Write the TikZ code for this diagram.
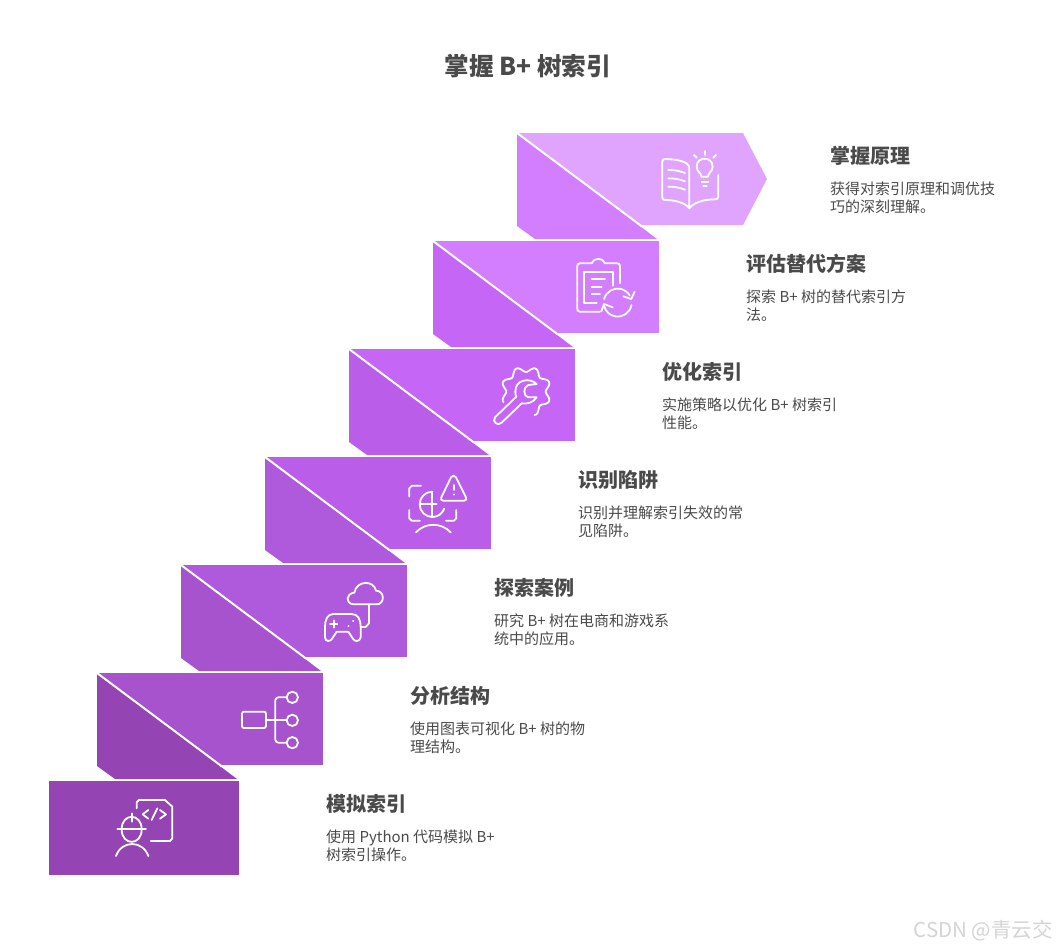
\documentclass[tikz,border=0pt]{standalone}
\usepackage{fontspec}
\setmainfont{Noto Sans CJK SC}
\definecolor{stepA}{HTML}{9445B3}
\definecolor{stepB}{HTML}{A653CD}
\definecolor{stepC}{HTML}{AF59DC}
\definecolor{stepD}{HTML}{BA5EEA}
\definecolor{stepE}{HTML}{C566F7}
\definecolor{stepF}{HTML}{D37EFF}
\definecolor{stepG}{HTML}{E0A4FF}
\definecolor{inkgray}{HTML}{4A4A4A}
\tikzset{
  headtext/.style={anchor=west,font=\bfseries\fontsize{20}{24}\selectfont,text=inkgray,inner sep=0pt},
  bodytext/.style={anchor=north west,align=left,font=\fontsize{15}{18}\selectfont,text=inkgray,inner sep=0pt},
  icon/.style={draw=white,line width=1.8pt,line cap=round,line join=round},
}
\begin{document}
\begin{tikzpicture}[x=1pt,y=-1pt]
  \useasboundingbox (0,0) rectangle (1056,948);

  % Titolo
  \node[font=\bfseries\fontsize{24.6}{28}\selectfont,text=inkgray,inner sep=0pt] (title) at (528,66) {掌握 B+ 树索引};

  % Gradini
  \fill[stepA] (49,781) rectangle (239,875);
  \foreach \k/\panel/\fold in {0/stepG/stepF,1/stepF/stepE,2/stepE/stepD,3/stepD/stepC,4/stepC/stepB,5/stepB/stepA}{
    \begin{scope}[shift={(-84*\k,108*\k)}]
      \ifnum\k=0
        \fill[\panel] (517,133) -- (743,133) -- (767,179) -- (743,225) -- (517,225) -- cycle;
      \else
        \fill[\panel] (517,133) rectangle (743,225);
      \fi
      \fill[\fold] (517,133) -- (517,226) -- (535,239) -- (657,239) -- cycle;
      \draw[white,line width=2pt] (517,133) -- (642,226.5);
    \end{scope}
  }

  % Testi
  \node[headtext] (headG) at (830,156) {掌握原理};
  \node[bodytext] (bodyG) at (830,182) {获得对索引原理和调优技\\巧的深刻理解。};
  \node[headtext] (headF) at (746,264) {评估替代方案};
  \node[bodytext] (bodyF) at (746,290) {探索 B+ 树的替代索引方\\法。};
  \node[headtext] (headE) at (662,372) {优化索引};
  \node[bodytext] (bodyE) at (662,398) {实施策略以优化 B+ 树索引\\性能。};
  \node[headtext] (headD) at (578,480) {识别陷阱};
  \node[bodytext] (bodyD) at (578,506) {识别并理解索引失效的常\\见陷阱。};
  \node[headtext] (headC) at (494,588) {探索案例};
  \node[bodytext] (bodyC) at (494,614) {研究 B+ 树在电商和游戏系\\统中的应用。};
  \node[headtext] (headB) at (410,696) {分析结构};
  \node[bodytext] (bodyB) at (410,722) {使用图表可视化 B+ 树的物\\理结构。};
  \node[headtext] (headA) at (326,804) {模拟索引};
  \node[bodytext] (bodyA) at (326,830) {使用 Python 代码模拟 B+\\树索引操作。};
  \node[anchor=east,font=\fontsize{20.5}{22}\selectfont,text=black!17,inner sep=0pt] (mark) at (1053,931) {CSDN @青云交};

  % Libro e lampadina
  \begin{scope}[shift={(500,120)},scale=1/3]
    \draw[icon] (655,165) -- (655,230) .. controls (655,237) and (650,238) .. (645,238) .. controls (610,238) and (580,248) .. (568,265) .. controls (556,248) and (525,240) .. (495,240) .. controls (490,240) and (487,237) .. (487,232) -- (487,125) .. controls (487,119) and (490,117) .. (495,117) .. controls (525,118) and (568,122) .. (568,145) -- (568,265);
    \foreach \ly in {150,175,200}
      \draw[icon] (505,\ly) .. controls (525,\ly) and (540,\ly+3) .. (555,\ly+9);
    \draw[icon] (604,170) .. controls (604,158) and (590,155) .. (590,140) .. controls (590,108) and (638,108) .. (638,140) .. controls (638,155) and (624,158) .. (624,170) -- cycle;
    \draw[icon] (605,185) -- (625,185);
    \draw[icon] (610,198) -- (620,198);
    \draw[icon] (614,93) -- (614,105);
    \draw[icon] (582,105) -- (590,113);
    \draw[icon] (648,105) -- (640,113);

    % Appunti con frecce
    \draw[icon] (300,575) -- (240,575) .. controls (235,575) and (232,572) .. (232,567) -- (232,438) .. controls (232,433) and (235,430) .. (240,430) -- (275,430) .. controls (280,412) and (310,412) .. (315,430) -- (352,430) .. controls (357,430) and (360,433) .. (360,438) -- (360,490);
    \draw[icon] (290,550) -- (253,550) -- (253,455) -- (338,455) -- (338,497);
    \draw[icon] (275,478) -- (315,478);
    \draw[icon] (275,500) -- (305,500);
    \draw[icon] (275,522) -- (300,522);
    \draw[icon] (312.4,537) arc (-165:-30:42);
    \draw[icon] (394.4,555) arc (10:165:42);
    \draw[icon] (404,515) -- (394,537) -- (370,529);
    \draw[icon] (304,574) -- (312,552) -- (338,562);
  \end{scope}

  % Ingranaggio e chiave
  \begin{scope}[shift={(340,340)},scale=1/3]
    \draw[icon] plot[smooth,domain=-70:205,samples=90] ({558+(67-8*cos(8*\x))*cos(\x)},{155-(67-8*cos(8*\x))*sin(\x)});
    \draw[icon] (590,132) .. controls (570,112) and (525,118) .. (526,155) .. controls (526,162) and (527,167) .. (529,170) -- (465,232) .. controls (455,245) and (473,260) .. (485,248) -- (545,190) .. controls (560,193) and (580,188) .. (590,172) -- (565,172) .. controls (550,170) and (548,140) .. (565,135) -- cycle;

    % Allarme e sfera
    \draw[icon] (333,412) .. controls (337,405) and (344,405) .. (348,412) -- (378,472) .. controls (381,478) and (378,482) .. (372,482) -- (310,482) .. controls (304,482) and (301,478) .. (304,472) -- cycle;
    \draw[icon] (341,435) -- (341,450);
    \draw[icon] (341,463) -- (341,464);
    \draw[icon] (243,437) -- (216,437) -- (208,445) -- (208,470);
    \draw[icon] (208,510) -- (208,535) -- (215,542) -- (240,542);
    \draw[icon] (318,542) -- (342,542) -- (349,535) -- (349,510);
    \draw[icon] (277,455) arc (-90:-270:38);
    \draw[icon] (277,531) arc (90:20:38);
    \draw[icon] (277,455) -- (277,531);
    \draw[icon] (240,493) -- (290,493);
    \draw[icon] (228,577) .. controls (255,547) and (305,547) .. (332,577);
  \end{scope}

  % Nuvola e controller
  \begin{scope}[shift={(170,560)},scale=1/3]
    \draw[icon] (550,133) .. controls (525,130) and (528,100) .. (553,98) .. controls (560,60) and (612,60) .. (618,92) .. controls (645,92) and (645,133) .. (620,133) -- cycle;
    \draw[icon] (597,133) -- (597,190) -- (587,201) -- (572,201);
    \draw[icon] (490,162) -- (545,162) .. controls (565,162) and (572,180) .. (572,200) -- (572,232) .. controls (570,246) and (552,246) .. (548,235) -- (535,215) -- (500,215) -- (487,235) .. controls (482,246) and (465,246) .. (465,232) -- (465,200) .. controls (465,180) and (472,162) .. (490,162) -- cycle;
    \draw[icon] (480,192) -- (502,192);
    \draw[icon] (491,181) -- (491,203);
    \draw[icon] (549,184) -- (550,184);
    \draw[icon] (535,198) -- (536,198);

    % Albero
    \draw[icon,rounded corners=2pt] (216,455) rectangle (288,504);
    \draw[icon] (288,480) -- (350,480);
    \draw[icon,rounded corners=3pt] (350,412) -- (316,412) -- (316,548) -- (350,548);
    \foreach \cy in {412,481,548}
      \draw[icon] (367,\cy) circle (17);
  \end{scope}

  % Operaio e codice
  \begin{scope}[shift={(40,760)},scale=1/3]
    \draw[icon] (290,145) -- (290,127) -- (297,120) -- (375,120) -- (397,140) -- (397,235) -- (390,243) -- (332,243);
    \draw[icon] (325,150) -- (308,163) -- (325,176);
    \draw[icon] (360,150) -- (378,163) -- (360,176);
    \draw[icon] (352,145) -- (335,180);
    \draw[icon] (245,208) .. controls (245,158) and (305,158) .. (305,208);
    \draw[icon] (245,208) .. controls (245,258) and (305,258) .. (305,208);
    \draw[icon] (232,208) -- (318,208);
    \draw[icon] (275,160) -- (275,185);
    \draw[icon] (228,288) .. controls (245,240) and (308,240) .. (325,288);
  \end{scope}
\end{tikzpicture}
\end{document}
